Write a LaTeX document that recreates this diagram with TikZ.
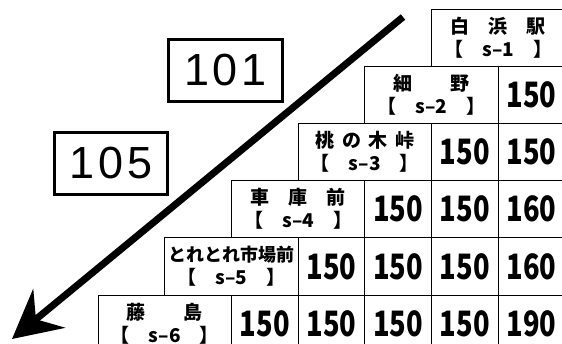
\documentclass[tikz,border=0pt]{standalone}
\usepackage{fontspec}
\usepackage{graphicx}
\newfontfamily\jp{Noto Sans CJK JP}
\newfontfamily\lat{Liberation Sans}[LetterSpace=8]
\usetikzlibrary{arrows.meta}
\begin{document}
\begin{tikzpicture}[x=1pt,y=-1pt,
  cell/.style={draw, line width=0.9pt, anchor=north west, minimum height=57.2pt, inner sep=0pt, outer sep=0pt},
  namecell/.style={cell, minimum width=133.4pt, align=center, font=\jp\bfseries\fontsize{19}{23}\selectfont},
  valcell/.style={cell, minimum width=66.7pt, font=\jp\bfseries\fontsize{35}{35}\selectfont},
  numbox/.style={draw, line width=3.3pt, minimum width=113.5pt, minimum height=62.5pt, inner sep=0pt, font=\lat\fontsize{45}{45}\selectfont},
  bigarrow/.style={line width=7pt, -{Stealth[length=48pt,width=50pt,inset=17pt]}}]
\useasboundingbox (0,0) rectangle (562,344);
\clip (0,0) rectangle (562,344);
% station name cells
\node[namecell] (n1) at (431.5,9) {白　浜　駅\\【　s–1　】};
\node[namecell] (n2) at (364.8,66.2) {細　　野\\【　s–2　】};
\node[namecell] (n3) at (298.1,123.4) {桃\hspace{7.5pt}の\hspace{7.5pt}木\hspace{7.5pt}峠\\【　s–3　】};
\node[namecell] (n4) at (231.4,180.6) {車　庫　前\\【　s–4　】};
\node[namecell] (n5) at (164.7,237.8) {\fontsize{18}{23}\selectfont とれとれ市場前\\\fontsize{19}{23}\selectfont【　s–5　】};
\node[namecell] (n6) at (98,295) {藤　　島\\【　s–6　】};
% fare cells
\foreach \r/\c/\v in {2/1/150,
                      3/1/150, 3/2/150,
                      4/1/150, 4/2/150, 4/3/160,
                      5/1/150, 5/2/150, 5/3/150, 5/4/160,
                      6/1/150, 6/2/150, 6/3/150, 6/4/150, 6/5/190}
  \node[valcell] (v\r\c) at ({98+(8-\r+\c-1)*66.7}, {9+(\r-1)*57.2}) {\scalebox{0.78}[1]{\v}};
% route number boxes
\node[numbox] (b101) at (225.5,70.5) {101};
\node[numbox] (b105) at (111,163.5) {105};
% direction arrow
\coordinate (as) at (403,17);
\coordinate (ae) at (12,339);
\draw[bigarrow] (as) -- (ae);
\end{tikzpicture}
\end{document}
